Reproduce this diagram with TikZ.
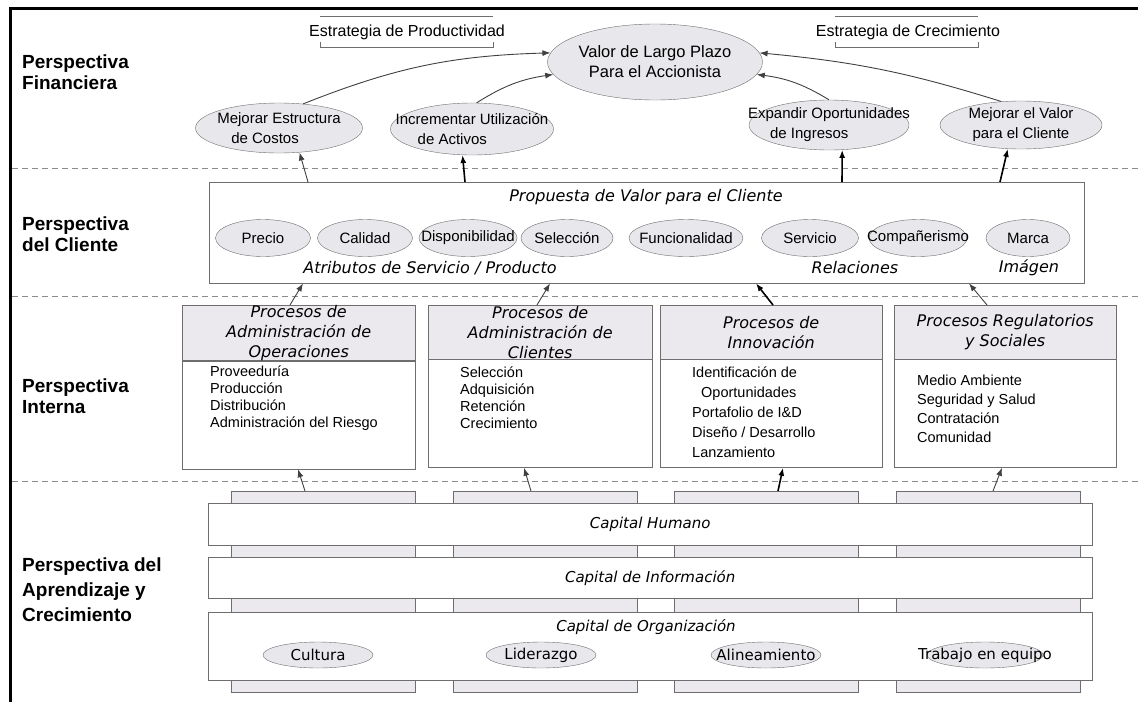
\documentclass[tikz,border=0pt]{standalone}
\usepackage{fontspec}
\setmainfont{Liberation Sans}
\newfontfamily\obl{DejaVu Sans}
\usetikzlibrary{shapes.geometric,arrows.meta,positioning}

\definecolor{linegray}{RGB}{110,110,110}
\definecolor{ellfill}{RGB}{232,232,236}
\definecolor{hdrfill}{RGB}{236,233,238}
\definecolor{dashgray}{RGB}{140,140,140}

\begin{document}
\begin{tikzpicture}[x=1pt, y=-1pt,
  perslabel/.style={font=\fontsize{19}{21}\selectfont\bfseries, align=left, anchor=west, inner sep=0pt},
  sepline/.style={draw=dashgray, line width=1pt, dash pattern=on 6pt off 4pt},
  goal/.style={ellipse, draw=linegray, fill=ellfill, inner xsep=-30pt, inner ysep=-6pt, align=left, font=\fontsize{15}{20}\selectfont},
  attr/.style={goal, minimum height=37pt, font=\fontsize{15}{17}\selectfont},
  orgel/.style={goal, minimum height=26pt, minimum width=110pt, font=\obl\fontsize{15}{17}\selectfont},
  box/.style={rectangle, draw=linegray, fill=white, inner sep=0pt, anchor=north west},
  hdr/.style={box, fill=hdrfill, align=center, font=\obl\itshape\fontsize{16}{20}\selectfont},
  pillar/.style={box, fill=hdrfill, minimum width=184pt, minimum height=201pt},
  bar/.style={box, minimum width=884pt, font=\obl\itshape\fontsize{15}{17}\selectfont},
  item/.style={anchor=west, align=left, inner sep=0pt, font=\fontsize{14.5}{17}\selectfont},
  ttl/.style={font=\obl\itshape\fontsize{16}{18}\selectfont, inner sep=0pt},
  strat/.style={font=\fontsize{16}{18}\selectfont, inner sep=0pt},
  brk/.style={draw=linegray, line width=1pt},
  arr/.style={-{Latex[length=8pt,width=6pt]}, line width=0.9pt, draw=black!75},
  arrb/.style={arr, line width=1.6pt, draw=black}]
\useasboundingbox (0,0) rectangle (1138,702);

% frame and separators
\draw[line width=3pt] (1138,8) -- (10,8) -- (10,702);
\foreach \yy in {168,296,481} \draw[sepline] (12,\yy) -- (1138,\yy);

% perspective labels
\node[perslabel] (finL) at (22,72) {Perspectiva\\Financiera};
\node[perslabel] (cliL) at (22,234) {Perspectiva\\del Cliente};
\node[perslabel] (intL) at (22,396) {Perspectiva\\Interna};
\node[perslabel, font=\fontsize{19}{25}\selectfont\bfseries] (aprL) at (22,590) {Perspectiva del\\Aprendizaje y\\Crecimiento};

% financial
\node[goal, align=center, minimum width=215pt, minimum height=76pt, font=\fontsize{16.5}{20}\selectfont] (valor) at (655,62) {Valor de Largo Plazo\\Para el Accionista};
\node[strat] (prodS) at (407,32) {Estrategia de Productividad};
\node[strat] (crecS) at (908,32) {Estrategia de Crecimiento};
\draw[brk] (320,16) -- (493,16);
\draw[brk] (320,42) -- (320,47) -- (493,47) -- (493,42);
\draw[brk] (835,16) -- (978,16);
\draw[brk] (835,42) -- (835,47) -- (978,47) -- (978,42);

\node[goal, minimum width=167pt, minimum height=50pt] (mejEst) at (279,128) {Mejorar Estructura\\\hspace*{14pt}de Costos};
\node[goal, minimum width=163pt, minimum height=52pt] (incAct) at (472,129) {Incrementar Utilización\\\hspace*{22pt}de Activos};
\node[goal, minimum width=160pt, minimum height=50pt] (expIng) at (829,125) {Expandir Oportunidades\\\hspace*{22pt}de Ingresos};
\node[goal, align=center, minimum width=162pt, minimum height=48pt] (mejVal) at (1021,125) {Mejorar el Valor\\para el Cliente};

\draw[arr] (mejEst.45) to[bend left=10] (valor.175);
\draw[arr] (incAct.80) to[bend left=12] (valor.187);
\draw[arr] (expIng.north) to[bend right=12] (valor.-7);
\draw[arr] (mejVal.130) to[bend right=6] (valor.5);

% customer
\node[box, minimum width=875pt, minimum height=101pt] (prop) at (209,182) {};
\node[ttl] (propT) at (646,197) {Propuesta de Valor para el Cliente};
\foreach \nm/\xx/\ww/\tx in {precio/263/95/Precio, calidad/365/95/Calidad, dispo/468/98/Disponibilidad,
    selec/567/92/Selección, funci/686/114/Funcionalidad, servi/810/97/Servicio,
    compa/918/98/Compañerismo, marca/1028/84/Marca}
  \node[attr, minimum width=\ww] (\nm) at (\xx,238) {\tx};
\node[ttl] (atrT) at (430,268) {Atributos de Servicio / Producto};
\node[ttl] (relT) at (855,268) {Relaciones};
\node[ttl] (imgT) at (1029,268) {Imágen};

\draw[arr] ([xshift=99pt]prop.north west) -- (mejEst.-50);
\draw[arrb] ([xshift=256pt]prop.north west) -- (incAct.-110);
\draw[arrb] ([xshift=633pt]prop.north west) -- (expIng.-62);
\draw[arrb] ([xshift=791pt]prop.north west) -- (mejVal.-119);

% internal processes
\node[hdr, minimum width=233pt, minimum height=54pt] (opsH) at (182,305) {Procesos de\\Administración de\\Operaciones};
\node[box, minimum width=233pt, minimum height=108pt] (ops) at (opsH.south west) {};
\node[hdr, minimum width=224pt, minimum height=54pt] (cliH) at (428,305) {Procesos de\\Administración de\\Clientes};
\node[box, minimum width=224pt, minimum height=108pt] (cli) at (cliH.south west) {};
\node[hdr, minimum width=222pt, minimum height=54pt] (innH) at (660,305) {Procesos de\\Innovación};
\node[box, minimum width=222pt, minimum height=108pt] (inn) at (innH.south west) {};
\node[hdr, minimum width=222pt, minimum height=54pt] (regH) at (894,305) {Procesos Regulatorios\\y Sociales};
\node[box, minimum width=222pt, minimum height=108pt] (reg) at (regH.south west) {};

\node[item] (opsL) at (210,398) {Proveeduría\\Producción\\Distribución\\Administración del Riesgo};
\node[item] (cliL2) at (460,398) {Selección\\Adquisición\\Retención\\Crecimiento};
\node[item, font=\fontsize{14.5}{20}\selectfont] (innL) at (692,412) {Identificación de\\\hspace*{9pt}Oportunidades\\Portafolio de I\&D\\Diseño / Desarrollo\\Lanzamiento};
\node[item, font=\fontsize{14.5}{19}\selectfont] (regL) at (917,409) {Medio Ambiente\\Seguridad y Salud\\Contratación\\Comunidad};

\draw[arr] ([xshift=108pt]opsH.north west) -- ([xshift=94pt]prop.south west);
\draw[arr] ([xshift=109pt]cliH.north west) -- ([xshift=341pt]prop.south west);
\draw[arrb] ([xshift=113pt]innH.north west) -- ([xshift=547pt]prop.south west);
\draw[arr] ([xshift=93pt]regH.north west) -- ([xshift=760pt]prop.south west);

% learning and growth
\foreach \nm/\xx in {pilA/231, pilB/453, pilC/674, pilD/896}
  \node[pillar] (\nm) at (\xx,491) {};
\node[bar, minimum height=42pt] (humano) at (208,503) {Capital Humano};
\node[bar, minimum height=41pt] (info) at (208,557) {Capital de Información};
\node[bar, minimum height=68pt] (orga) at (208,612) {};
\node[ttl, font=\obl\itshape\fontsize{15}{17}\selectfont] (orgaT) at (646,627) {Capital de Organización};
\node[orgel] (cultura) at (318,655) {Cultura};
\node[orgel] (lider) at (541,655) {Liderazgo};
\node[orgel] (alinea) at (766,655) {Alineamiento};
\node[orgel, minimum width=116pt] (trabajo) at (985,655) {Trabajo en equipo};

\draw[arr] ([xshift=74pt]pilA.north west) -- ([xshift=116pt]ops.south west);
\draw[arr] ([xshift=78pt]pilB.north west) -- ([xshift=96pt]cli.south west);
\draw[arrb] ([xshift=104pt]pilC.north west) -- ([xshift=123pt]inn.south west);
\draw[arr] ([xshift=97pt]pilD.north west) -- ([xshift=108pt]reg.south west);
\end{tikzpicture}
\end{document}
